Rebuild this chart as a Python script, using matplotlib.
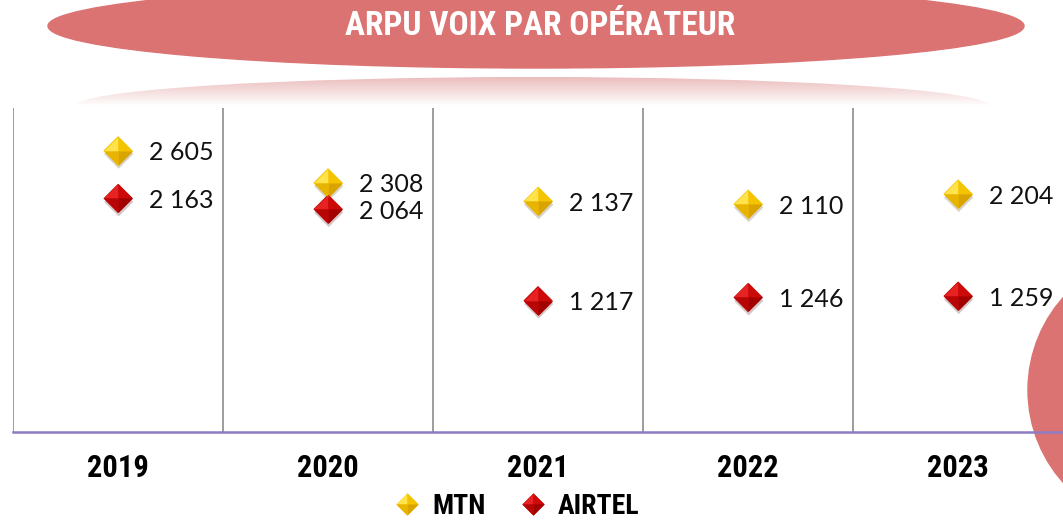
import numpy as np
import matplotlib
matplotlib.use('Agg')
import matplotlib.pyplot as plt
import matplotlib.patheffects as pe
from matplotlib import font_manager
from matplotlib.patches import Ellipse
from matplotlib.lines import Line2D
from matplotlib.colors import LinearSegmentedColormap

annees = ['2019', '2020', '2021', '2022', '2023']
mtn = [2605, 2308, 2137, 2110, 2204]
airtel = [2163, 2064, 1217, 1246, 1259]
series = ['MTN', 'AIRTEL']

# police etroite si disponible
noms = {f.name for f in font_manager.fontManager.ttflist}
etroites = {f.name for f in font_manager.fontManager.ttflist
            if f.stretch in ('condensed', 'semi-condensed', 'extra-condensed') or 'Narrow' in f.name or 'Condensed' in f.name}
cond = None
for n in ['Liberation Sans Narrow', 'Roboto Condensed', 'Open Sans Condensed', 'DejaVu Sans']:
    if n in noms and n in etroites:
        cond = n
        break
if cond is None:
    cond = 'DejaVu Sans'
etroit = cond in etroites
num_font = ['Lato', 'DejaVu Sans']

W, H = 1063, 522
fig = plt.figure(figsize=(W / 100, H / 100), dpi=100)

# decor en fond (coordonnees en pixels)
bg = fig.add_axes([0, 0, 1, 1], zorder=0)
bg.axis('off')
bg.add_patch(Ellipse((536, 26), 976, 84, color='#DB7372', zorder=2))
ombre = Ellipse((533, 106), 915, 58, facecolor='none', edgecolor='none')
bg.add_patch(ombre)
cmap = LinearSegmentedColormap.from_list('ombre', ['#EBBDBD', '#FFFFFF'])
im = bg.imshow(np.linspace(0, 1, 100).reshape(-1, 1), cmap=cmap,
               extent=(76, 991, 106, 77), aspect='auto', zorder=1)
im.set_clip_path(ombre)
bg.add_patch(Ellipse((1167, 390), 278, 278, color='#DB7372', zorder=1))
bg.add_patch(Ellipse((-30, 570), 100, 100, color='#C84B3C', zorder=1))
bg.text(540, 26, 'ARPU VOIX PAR OPÉRATEUR', color='white',
        fontsize=24 if etroit else 16, fontweight='bold', family=cond,
        fontstretch='condensed', ha='center', va='center', zorder=3)
bg.set_xlim(0, W)
bg.set_ylim(H, 0)

ax = fig.add_axes([13 / W, 1 - 432 / H, 1050 / W, 324 / H], zorder=1)
ax.set_facecolor('none')
x = np.arange(len(annees))
ax.set_xlim(-0.5, len(annees) - 0.5)
ax.set_ylim(0, 3000)
for b in np.arange(-0.5, len(annees) - 0.5, 1):
    ax.axvline(b, color='#8C8C8C', lw=1.2, zorder=1)
for s in ['top', 'right', 'left']:
    ax.spines[s].set_visible(False)
ax.spines['bottom'].set_color('#8E7CC3')
ax.spines['bottom'].set_linewidth(1.8)
ax.set_yticks([])
ax.set_xticks(x, annees)
ax.tick_params(axis='x', length=0, pad=15)
for t in ax.get_xticklabels():
    t.set_fontfamily(cond)
    t.set_fontstretch('condensed')
    t.set_fontweight('bold')
    t.set_fontsize(22 if etroit else 17)

# diamants a facettes
plein = [(-1, 0), (0, 1), (1, 0), (0, -1)]
facettes = [[(-1, 0), (0, 1), (0, 0)], [(0, 1), (1, 0), (0, 0)],
            [(1, 0), (0, -1), (0, 0)], [(0, -1), (-1, 0), (0, 0)]]
couleurs = {
    'MTN': ('#F2C200', ['#FFE34D', '#F5C400', '#D9A300', '#E8B400']),
    'AIRTEL': ('#C00000', ['#E62222', '#CC0A0A', '#A30000', '#B80606']),
}


def diamants(xs, ys, nom, ms):
    base, faces = couleurs[nom]
    ax.plot(xs, ys, ls='none', marker=plein, ms=ms, mfc=base, mew=0, zorder=3,
            path_effects=[pe.SimplePatchShadow(offset=(0.5, -2.5), alpha=0.22), pe.Normal()])
    for f, c in zip(facettes, faces):
        ax.plot(xs, ys, ls='none', marker=f, ms=ms, mfc=c, mew=0, zorder=4)


def poignee(nom, ms):
    base, faces = couleurs[nom]
    h = [Line2D([], [], ls='none', marker=plein, ms=ms, mfc=base, mew=0)]
    h += [Line2D([], [], ls='none', marker=f, ms=ms, mfc=c, mew=0) for f, c in zip(facettes, faces)]
    return tuple(h)


for nom, vals in zip(series, [mtn, airtel]):
    diamants(x, vals, nom, 21)
    for xi, v in zip(x, vals):
        ax.annotate(f'{v:,}'.replace(',', ' '), (xi, v), xytext=(22, -1.5),
                    textcoords='offset points', ha='left', va='center',
                    fontsize=18, family=num_font, color='#111111', zorder=5)

fig.legend([poignee(n, 16) for n in series], series, loc='center',
           bbox_to_anchor=(515 / W, 1 - 506 / H), ncol=2, frameon=False,
           borderpad=0.2, handlelength=1.2, handletextpad=0.3, columnspacing=1.1,
           prop={'family': cond, 'weight': 'bold', 'stretch': 'condensed',
                 'size': 20 if etroit else 17})

fig.savefig('out.png', dpi=100)
